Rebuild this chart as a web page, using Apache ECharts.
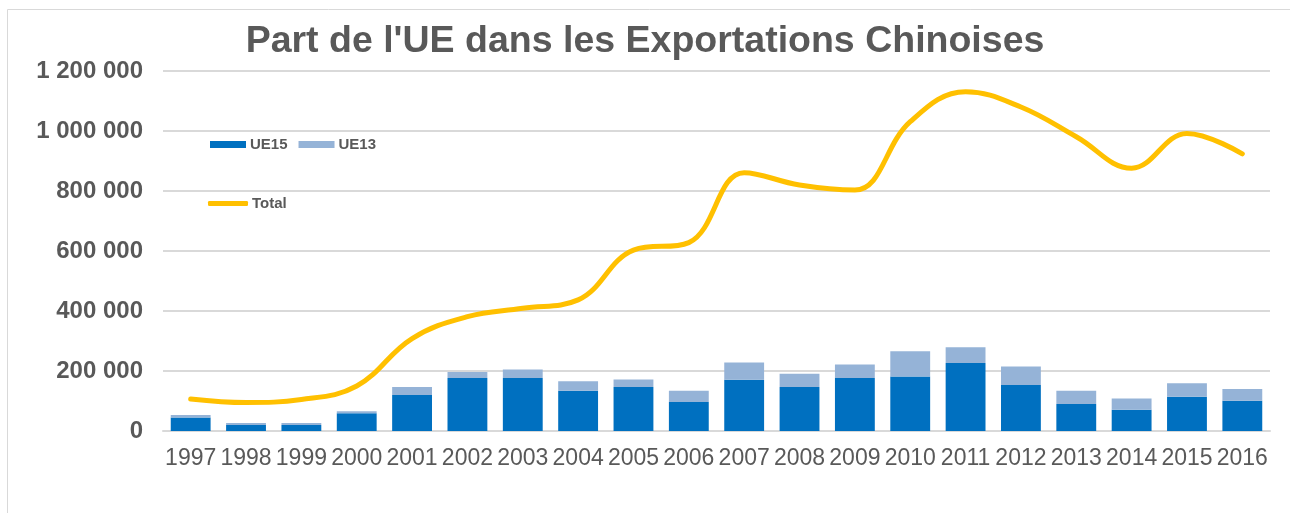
<!DOCTYPE html>
<html>
<head>
<meta charset="utf-8">
<script src="https://cdn.jsdelivr.net/npm/echarts@6/dist/echarts.min.js"></script>
<style>
  html, body { margin: 0; padding: 0; background: #fff; }
  #chart { width: 1290px; height: 513px; }
</style>
</head>
<body>
<div id="chart"></div>
<script>
const years = ['1997','1998','1999','2000','2001','2002','2003','2004','2005','2006',
               '2007','2008','2009','2010','2011','2012','2013','2014','2015','2016'];
const ue15 = [45000, 20000, 20000, 59000, 120000, 177000, 177000, 134000, 147000, 97000,
              171000, 147000, 177000, 182000, 227000, 153000, 90000, 71000, 114000, 101000];
const ue13 = [8000, 7000, 7000, 7000, 27000, 20000, 28000, 32000, 25000, 37000,
              57000, 44000, 45000, 84000, 52000, 62000, 44000, 37000, 45000, 39000];
const total = [107000, 95000, 105000, 150000, 308000, 381000, 409000, 437000, 603000, 628000,
               861000, 820000, 803000, 1031000, 1131000, 1080000, 981000, 876000, 992000, 924000];

const gray = '#595959';
const fmt = v => String(v).replace(/\B(?=(\d{3})+(?!\d))/g, ' ');
const legendText = { fontFamily: 'Liberation Sans', fontSize: 15, fontWeight: 'bold', color: gray, padding: [0, 0, 0, -1] };

const chart = echarts.init(document.getElementById('chart'));
chart.setOption({
  animation: false,
  title: {
    text: "Part de l'UE dans les Exportations Chinoises",
    left: 'center',
    top: 18,
    textStyle: { fontFamily: 'Liberation Sans', fontSize: 37.5, fontWeight: 'bold', color: gray }
  },
  graphic: [{
    type: 'rect',
    shape: { x: 7.5, y: 9.5, width: 1400, height: 600 },
    style: { fill: 'none', stroke: '#d9d9d9', lineWidth: 1 },
    silent: true
  }],
  legend: [
    {
      data: ['UE15', 'UE13'],
      left: 205, top: 132,
      itemWidth: 36, itemHeight: 7, itemGap: 11,
      icon: 'rect',
      textStyle: legendText
    },
    {
      data: ['Total'],
      left: 203, top: 191,
      itemWidth: 40, itemHeight: 5, itemGap: 11,
      icon: 'roundRect',
      textStyle: legendText
    }
  ],
  grid: { left: 163, right: 20, top: 71, bottom: 82 },
  xAxis: {
    type: 'category',
    data: years,
    axisLine: { lineStyle: { color: '#d9d9d9', width: 2 } },
    axisTick: { show: false },
    axisLabel: { fontFamily: 'Liberation Sans', fontSize: 23, color: gray, margin: 16, interval: 0 }
  },
  yAxis: {
    type: 'value',
    min: 0, max: 1200000, interval: 200000,
    axisLine: { show: false },
    axisTick: { show: false },
    splitLine: { lineStyle: { color: '#d9d9d9', width: 2 } },
    axisLabel: {
      fontFamily: 'Liberation Sans', fontSize: 24, fontWeight: 'bold', color: gray, margin: 20,
      formatter: fmt
    }
  },
  series: [
    {
      name: 'UE15', type: 'bar', stack: 'ue', data: ue15,
      barCategoryGap: '28%',
      itemStyle: { color: '#0070C0' }
    },
    {
      name: 'UE13', type: 'bar', stack: 'ue', data: ue13,
      itemStyle: { color: '#95B3D7' }
    },
    {
      name: 'Total', type: 'line', data: total,
      smooth: 0.4, symbol: 'none',
      lineStyle: { color: '#FFC000', width: 5, cap: 'round' },
      itemStyle: { color: '#FFC000' }
    }
  ]
});
</script>
</body>
</html>
